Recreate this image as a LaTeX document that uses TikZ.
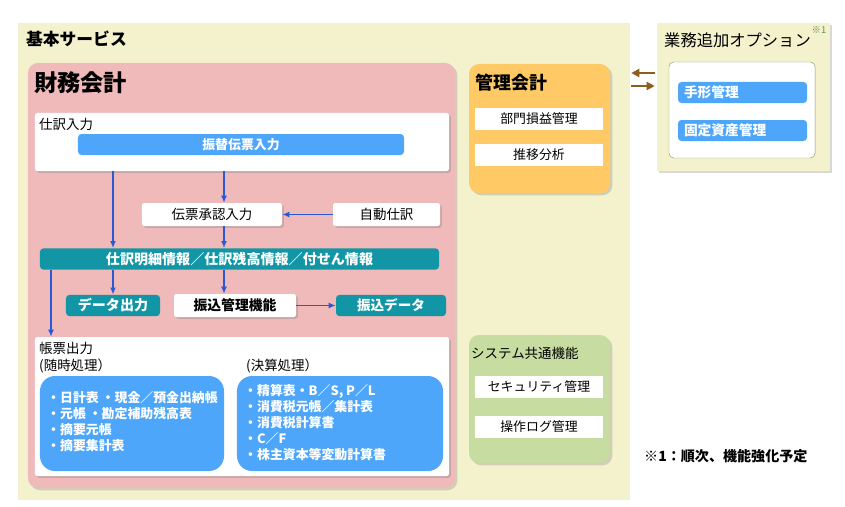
\documentclass[tikz,border=0pt]{standalone}
\usepackage{fontspec}
\setmainfont{Noto Sans CJK JP}
\usetikzlibrary{shadows,arrows.meta,calc}

\definecolor{basebg}{RGB}{243,242,205}
\definecolor{pinkbg}{RGB}{240,186,186}
\definecolor{orangebg}{RGB}{255,201,102}
\definecolor{greenbg}{RGB}{198,220,160}
\definecolor{bluebar}{RGB}{78,166,250}
\definecolor{tealbar}{RGB}{18,150,166}
\definecolor{arrblue}{RGB}{40,90,215}
\definecolor{arrbrown}{RGB}{140,95,30}
\definecolor{olive}{RGB}{150,150,100}
\definecolor{notegreen}{RGB}{110,140,80}

\newcommand{\fs}[1]{\fontsize{#1}{13.6}\selectfont}

\begin{document}
\begin{tikzpicture}[x=0.03cm,y=-0.03cm]
	\tikzstyle{panel} = [rectangle,rounded corners=0.3cm,inner sep=0pt,
	drop shadow={shadow xshift=2pt,shadow yshift=-2pt,opacity=0.3}]
	\tikzstyle{wbox} = [rectangle,rounded corners=2pt,fill=white,inner sep=0pt,minimum height=0.69cm,
	font=\fs{11.5},drop shadow={shadow xshift=1.5pt,shadow yshift=-1.5pt,opacity=0.35}]
	\tikzstyle{sbox} = [rectangle,fill=white,inner sep=0pt,minimum width=3.84cm,minimum height=0.66cm,font=\fs{11}]
	\tikzstyle{tbar} = [rectangle,rounded corners=3pt,fill=tealbar,text=white,inner sep=0pt,
	minimum height=0.64cm,font=\fs{12}\bfseries]
	\tikzstyle{bbar} = [rectangle,rounded corners=3pt,fill=bluebar,text=white,inner sep=0pt,
	minimum height=0.63cm,font=\fs{11}\bfseries]
	\tikzstyle{blist} = [rectangle,rounded corners=0.45cm,fill=bluebar,inner sep=0pt,minimum height=2.85cm]
	\tikzstyle{ltxt} = [anchor=west,align=left,inner sep=0pt,text=white,font=\fs{11}\bfseries]
	\tikzstyle{lbl} = [anchor=west,inner sep=0pt,font=\fs{11.5}]
	\tikzstyle{arr} = [draw=arrblue,line width=1.4pt,-{Latex[length=6pt,width=5pt]}]
	\tikzstyle{barr} = [draw=arrbrown,line width=2pt,-{Triangle[length=7pt,width=7pt]}]

	\path[fill=white,use as bounding box] (0,0) rectangle (845,506);

	% basic services
	\node (base) [rectangle,fill=basebg,inner sep=0pt,minimum width=18.36cm,minimum height=14.31cm] at (324,261.5) {};
	\node (basettl) [lbl,font=\fs{14.3}\bfseries] at (26,39) {基本サービス};

	% financial accounting
	\node (fa) [panel,fill=pinkbg,minimum width=12.81cm,minimum height=12.75cm] at (241.5,275.5) {};
	\node (fattl) [lbl,font=\fs{19.8}\bfseries] at (34,83) {財務会計};

	\node (shiwake) [wbox,minimum width=12.42cm,minimum height=1.74cm] at (242,142) {};
	\node (shiwakettl) [lbl] at (39,124) {仕訳入力};
	\node (furikae) [bbar,minimum width=9.78cm] at (241,144.5) {振替伝票入力};

	\node (shonin) [wbox,minimum width=4.2cm] at (212,214.5) {伝票承認入力};
	\node (jido) [wbox,minimum width=3.21cm] at (386.5,214.5) {自動仕訳};

	\node (meisai) [tbar,minimum width=11.97cm] at (239.5,259) {仕訳明細情報／仕訳残高情報／付せん情報};

	\node (data) [tbar,minimum width=2.82cm] at (113,305.5) {データ出力};
	\node (furikomi) [wbox,minimum width=3.66cm,font=\fs{11.8}\bfseries] at (235,305.5) {振込管理機能};
	\node (fdata) [tbar,minimum width=3.3cm,font=\fs{11.6}\bfseries] at (391,305.5) {振込データ};

	\node (chohyo) [wbox,minimum width=12.42cm,minimum height=4.17cm] at (242,406.5) {};
	\node (chohyottl) [lbl] at (39,348) {帳票出力};
	\node (zuijittl) [lbl] at (39,366) {(随時処理）};
	\node (kessanttl) [lbl] at (246,366) {(決算処理）};

	\node (zuiji) [blist,minimum width=5.52cm] at (132,423.5) {};
	\node (zuijitxt) [ltxt] at (47,422) {・日計表 ・現金／預金出納帳\\・元帳 ・勘定補助残高表\\・摘要元帳\\・摘要集計表};
	\node (kessan) [blist,minimum width=6.18cm] at (340,423.5) {};
	\node (kessantxt) [ltxt] at (244,422.5) {・精算表・B／S, P／L\\・消費税元帳／集計表\\・消費税計算書\\・C／F\\・株主資本等変動計算書};

	% management accounting
	\node (kanri) [panel,fill=orangebg,minimum width=4.23cm,minimum height=3.87cm] at (539.5,128.5) {};
	\node (kanrittl) [lbl,font=\fs{15.3}\bfseries] at (475,83) {管理会計};
	\node (bumon) [sbox] at (539,119) {部門損益管理};
	\node (suii) [sbox] at (539,155) {推移分析};

	% system common
	\node (sys) [panel,fill=greenbg,minimum width=4.23cm,minimum height=3.84cm] at (539.5,399) {};
	\node (systtl) [lbl] at (471,353) {システム共通機能};
	\node (sec) [sbox] at (539,387) {セキュリティ管理};
	\node (log) [sbox] at (539,427) {操作ログ管理};

	% options
	\node (opt) [rectangle,fill=basebg,inner sep=0pt,minimum width=5.19cm,minimum height=4.44cm,
	drop shadow={shadow xshift=2pt,shadow yshift=-2pt,opacity=0.3}] at (743.5,97) {};
	\node (optttl) [lbl,font=\fs{13.9}] at (664,40) {業務追加オプション};
	\node (optmark) [inner sep=0pt,text=notegreen,font=\fs{8}] at (819,30) {※1};
	\node (optin) [rectangle,rounded corners=4pt,fill=white,draw=olive,line width=0.4pt,
	inner sep=0pt,minimum width=4.38cm,minimum height=2.88cm] at (742,110) {};
	\node (tegata) [bbar,font=\fs{11.7}\bfseries,minimum width=3.87cm,text width=3.51cm,align=left] at (742.5,92.5) {手形管理};
	\node (kotei) [bbar,font=\fs{11.7}\bfseries,minimum width=3.87cm,text width=3.51cm,align=left] at (742.5,130.5) {固定資産管理};

	\node (note) [lbl,font=\fs{12}\bfseries] at (644,456) {※1：順次、機能強化予定};

	% connectors
	\coordinate (lft) at (51,0);
	\coordinate (mid) at (224,0);
	\draw[arr] (shiwake.south -| data) -- (meisai.north -| data);
	\draw[arr] (shiwake.south -| mid) -- (shonin.north -| mid);
	\draw[arr] (jido) -- (shonin);
	\draw[arr] (shonin.south -| mid) -- (meisai.north -| mid);
	\draw[arr] (meisai.south -| data) -- (data.north);
	\draw[arr] (meisai.south -| mid) -- (furikomi.north -| mid);
	\draw[arr] (meisai.south -| lft) -- (chohyo.north -| lft);
	\draw[arr] (furikomi) -- (fdata);

	\draw[barr] ($(opt.west)+(-2,-24)$) -- ($(opt.west -| base.east)+(1,-24)$);
	\draw[barr] ($(opt.west -| base.east)+(1,-11)$) -- ($(opt.west)+(-2,-11)$);
\end{tikzpicture}
\end{document}
